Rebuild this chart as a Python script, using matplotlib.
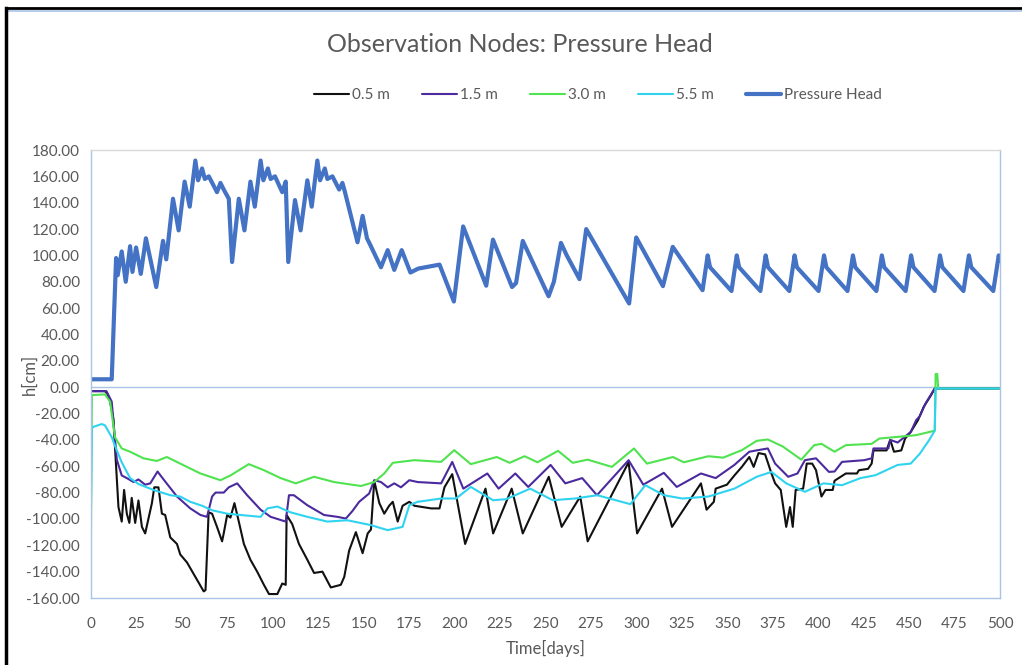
import matplotlib
matplotlib.use("Agg")
import matplotlib.pyplot as plt
from matplotlib.lines import Line2D
from matplotlib.ticker import FormatStrFormatter, MultipleLocator

plt.rcParams['font.family'] = ['Lato', 'DejaVu Sans']

# ---------------- data ----------------
ph_days = [0, 11.4, 13.8, 14.7, 16.9, 19.1, 21.5, 22.8, 24.8, 27.4, 30.2, 35.9, 39.6, 41.4,
           45.1, 48.2, 51.5, 54.3, 57.4, 58.9, 61.1, 62.6, 64.8, 69.3, 71.2, 73.0, 75.8,
           77.6, 81.3, 84.4, 87.7, 90.1, 93.3, 94.8, 97.3, 98.8, 101.2, 105.2, 107.1,
           108.5, 112.2, 115.3, 119.0, 121.4, 124.5, 126.0, 128.6, 130.0, 132.8, 136.5,
           138.3, 139.7, 146.6, 149.4, 151.8, 153.6, 156.7, 159.5, 163.2, 166.8, 170.9,
           175.7, 180, 191.7, 199.6, 204.7, 217.4, 221.1, 231.6, 233.8, 237.5, 251.7,
           254.6, 258.5, 261.7, 268.7, 272.4, 296, 299.9, 314.6, 320, 336.4,
           339.2, 340.5, 352.3, 355.2, 356.5, 368.2, 371.1, 372.4, 384.1, 387.0, 388.3,
           400.2, 403.2, 404.5, 416.1, 419.1, 420.4, 432.0, 435.0, 436.3, 448.1, 451.1,
           452.4, 464.0, 467.0, 468.3, 479.9, 482.9, 484.2, 496.3, 499.3, 500]
ph_vals = [6, 6, 98, 85, 103, 80, 107, 87.5, 106, 86, 113, 76, 111, 97,
           143, 119, 156, 137, 172, 157, 166, 158, 160, 148, 155, 150, 143,
           95, 143, 119, 156, 137, 172, 157, 166, 158, 160, 148, 156,
           95, 142, 119, 157, 137, 172, 157, 166, 158, 160, 150,
           155, 148, 110, 130, 113, 108, 99, 91, 104, 89, 104,
           87, 90, 93, 65, 122, 77, 112, 76, 79, 111, 69,
           80, 109.5, 100, 82, 120, 63.5, 113.6, 76.7, 106.5, 73.6,
           100, 91, 73, 100, 91, 73, 100, 91, 73, 100, 91,
           73, 100, 91, 73, 100, 91, 73, 100, 91, 73, 100,
           91, 73, 100, 91, 73, 100, 91, 73, 100, 96]

n05_days = [0, 7.7, 9, 10.5, 12.3, 15.1, 16.9, 18.2, 19.7, 21.1, 22.4, 24.3, 26.1, 28,
            29.8, 33.5, 34.8, 37.1, 39, 40.8, 43.6, 47.3, 49.1, 52.8, 57.4, 62, 63, 64.7,
            66.6, 69.3, 72.1, 73, 74.9, 76.7, 78.9, 81.3, 84.1, 87.7, 91.4, 95.1, 97.9,
            102.5, 105.2, 107.1, 107.6, 110.7, 114.4, 119, 122.7, 127.3, 131.9, 137.4,
            139.3, 142, 145.7, 149.4, 152.2, 154, 155.8, 158.6, 161.3, 164, 166, 168.7,
            171.4, 175.1, 177.9, 187.1, 191.7, 194.4, 198.7, 205.8, 217, 221.2, 231.4,
            237.5, 251.8, 258.9, 269.1, 273.2, 295.7, 300.4, 314.1, 319.6, 335.5, 338.6,
            342.6, 343.6, 349.8, 353.9, 358, 362.1, 364.5, 367.2, 370.8, 374.3, 376.3,
            379.4, 382.4, 384.5, 386, 387.6, 391.7, 393.7, 396.7, 398.8, 401.8, 404, 408,
            409, 415.2, 421.3, 422.4, 427.4, 429.4, 430.4, 437.6, 439.6, 441.7, 445.7,
            447.8, 450.9, 454.9, 458, 462.1, 464.1, 500]
n05_vals = [-3, -3, -5, -11, -24, -91, -102, -78, -96, -103, -84, -103, -86, -106,
            -111, -88, -76, -76, -96, -97, -114, -119, -127, -133, -144, -155, -154, -95,
            -96, -106, -117, -111, -97, -99, -88, -102, -119, -131, -140, -150, -157,
            -157, -149, -150, -97, -104, -119, -131, -141, -140, -152, -150,
            -144, -124, -110, -126, -111, -108, -71, -88, -96, -90, -87, -102,
            -90, -87, -90, -92, -92, -76, -66, -119, -77, -111, -77,
            -111, -68, -106, -83, -117, -57, -111, -77, -106, -73, -93,
            -87, -77, -74, -67, -60.5, -53, -60.5, -50, -51, -65.5, -73,
            -78, -106, -91, -106, -78, -77, -58, -58, -63, -83, -78, -78,
            -71, -65.5, -65.5, -63, -62, -58, -48, -48, -40, -49, -48,
            -39, -34, -25, -15, -6, -1, -1]

n15_days = [0, 8.5, 11.4, 14.2, 16.9, 19.7, 23.4, 26.1, 29.8, 32.6, 36.6, 39.9, 47.3,
            54.6, 60.2, 63.8, 66.6, 68.5, 73, 75.8, 80.4, 85.9, 93.3, 98.8, 107.1, 108.9,
            111.6, 119, 128.2, 135.5, 140.2, 143.8, 147.5, 153, 155.8, 159.5, 163.2,
            166.8, 170.5, 175.1, 179.7, 192.6, 198.7, 204.8, 218, 224.2, 233.4, 240.5,
            252.8, 260.9, 270.2, 278.3, 295.7, 303.8, 315.1, 322.2, 335.5, 343.6, 353.9,
            362.1, 366, 372.3, 376.3, 383.5, 388.6, 392.7, 398.8, 405.9, 409, 413.1,
            425.3, 429.4, 430.4, 438.6, 439.6, 443.7, 447.7, 450.9, 453.9, 455.9, 459,
            464.1, 500]
n15_vals = [-3, -3, -11, -55, -67, -69, -72, -70, -74, -73, -64, -70, -83,
            -92, -97, -98.4, -83, -80, -80, -76, -73, -82, -93, -98.4, -102, -82,
            -82, -89.6, -97, -98.4, -99.7, -94, -87, -80.7, -70.6, -72, -76,
            -73, -76, -70.6, -72, -73, -56.7, -77, -65.5, -77, -65.5, -75.7,
            -59, -73, -69, -82, -55.4, -74, -65, -75.7, -65.5, -69, -59,
            -49, -48, -46.5, -58, -68, -65.5, -55.4, -54, -64.3, -64, -56.7,
            -55.4, -54, -46.5, -46.5, -40, -42, -37.6, -34, -25, -22, -12.4,
            -1, -1]

n30_days = [0, 0.5, 7.7, 10.5, 13.2, 16.9, 21.5, 28.9, 36.2, 41.7, 49.1, 60.2, 71.2,
            76.7, 86.8, 95.1, 104.3, 112.6, 122.7, 133.7, 148.5, 155.8, 161.3, 166,
            177.9, 192.6, 199.8, 208.9, 223.2, 230.3, 238.5, 245.6, 256.9, 265, 273.2,
            286.5, 298.7, 305.8, 320.1, 326.1, 339.6, 347.7, 358, 366.2, 372.3, 380.5,
            390.7, 397.8, 401.8, 409, 415.2, 429.4, 433.6, 453.9, 464.1, 464.6, 465.5,
            466, 500]
n30_vals = [-108, -6, -5.5, -11, -38, -46.5, -49, -54, -56, -53, -58, -65.5, -70.6,
            -67, -58.4, -63, -69, -73, -68, -72, -75, -72, -65.5, -57.4,
            -55.4, -56.7, -47.8, -58.4, -53, -57.4, -52.4, -57, -48.3, -57.4, -55,
            -60.5, -46.5, -58, -53, -57, -52.4, -53.5, -47.8, -40.7, -39.7, -45,
            -55, -44, -43, -49, -44, -43, -39, -36.4, -33, 10, 10,
            -1, -1]

n55_days = [0, 0.5, 1.5, 5.9, 7.7, 11.4, 14.2, 16.9, 21.5, 26.1, 34.4, 43.6, 49.1,
            54.6, 61.1, 66.6, 74.9, 82.2, 93.3, 97, 102.5, 109.8, 119, 130, 141, 154,
            163.2, 171.4, 175.1, 179.7, 192.6, 200.8, 208.9, 221.2, 228.3, 241.6, 254,
            266.2, 278.5, 296.7, 304.9, 315.1, 325.3, 339.6, 353.9, 366.2, 374.3, 382.4,
            392.7, 402.9, 413.1, 423.3, 431.5, 443.7, 450.9, 456, 461.1, 464.1, 464.6,
            500]
n55_vals = [-90, -31, -30, -28, -29, -38, -48, -57, -69, -73.5, -78, -82, -83,
            -87, -90, -93.4, -96, -97, -98.4, -92, -90.6, -95, -98.4, -102, -101, -104.7,
            -108.5, -106, -89.6, -87, -84.5, -84.5, -75.7, -85.8, -85, -77, -85.8,
            -84.5, -82, -88.8, -74.4, -82, -84.5, -83, -77, -68, -64.3, -73,
            -79.4, -73, -74.4, -69, -66.8, -59, -58, -50.3, -40, -33, -1,
            -1]

series_labels = ['0.5 m', '1.5 m', '3.0 m', '5.5 m', 'Pressure Head']
x_ticks = list(range(0, 501, 25))

# ---------------- figure ----------------
W, H = 1022, 665
fig = plt.figure(figsize=(W / 100, H / 100), dpi=100)
fig.patch.set_facecolor('white')

ax = fig.add_axes([91 / W, 1 - 598 / H, (1000 - 91) / W, (598 - 150) / H])

txt = '#595959'
kw = dict(solid_joinstyle='round', solid_capstyle='round')
ax.plot(n05_days, n05_vals, color='#111111', lw=1.5, label=series_labels[0], **kw)
ax.plot(n15_days, n15_vals, color='#4B2A9E', lw=1.5, label=series_labels[1], **kw)
ax.plot(n30_days, n30_vals, color='#4FE34F', lw=1.5, label=series_labels[2], **kw)
ax.plot(n55_days, n55_vals, color='#2FD3F0', lw=1.5, label=series_labels[3], **kw)
ax.plot(ph_days, ph_vals, color='#4472C4', lw=3.0, label=series_labels[4], **kw)

ax.axhline(0, color='#A9C4E6', lw=1.0, zorder=0.5)

ax.set_xlim(0, 500)
ax.set_ylim(-160, 180)
ax.set_xticks(x_ticks)
ax.yaxis.set_major_locator(MultipleLocator(20))
ax.yaxis.set_major_formatter(FormatStrFormatter('%.2f'))
ax.tick_params(axis='both', length=0, labelsize=11, labelcolor=txt)
ax.tick_params(axis='x', pad=14)
ax.tick_params(axis='y', pad=8)

for side in ['left', 'right', 'bottom']:
    ax.spines[side].set_color('#A9C4E6')
    ax.spines[side].set_linewidth(1.0)
ax.spines['top'].set_color('#D9D9D9')
ax.spines['top'].set_linewidth(1.0)

ax.set_xlabel('Time[days]', fontsize=12, color=txt, labelpad=6)
ax.set_ylabel('h[cm]', fontsize=12, color=txt, labelpad=-8)

fig.text(520 / W, 1 - 44 / H, 'Observation Nodes: Pressure Head', ha='center', va='center',
         fontsize=18, color=txt)

leg = fig.legend(loc='center', bbox_to_anchor=(598 / W, 1 - 95 / H), ncol=5, frameon=False,
                 fontsize=11, handlelength=2.3, handletextpad=0.2, columnspacing=2.1,
                 labelcolor=txt)

# outer screenshot frame (black at top and left)
fig.add_artist(Line2D([6 / W, 1], [1 - 8 / H, 1 - 8 / H], color='black', lw=2.0,
                      transform=fig.transFigure))
fig.add_artist(Line2D([8 / W, 1], [1 - 10.5 / H, 1 - 10.5 / H], color='#A9C4E6', lw=1.2,
                      transform=fig.transFigure))
fig.add_artist(Line2D([6 / W, 6 / W], [0, 1 - 8 / H], color='black', lw=2.5,
                      transform=fig.transFigure))

fig.savefig('out.png', dpi=100, facecolor='white')
